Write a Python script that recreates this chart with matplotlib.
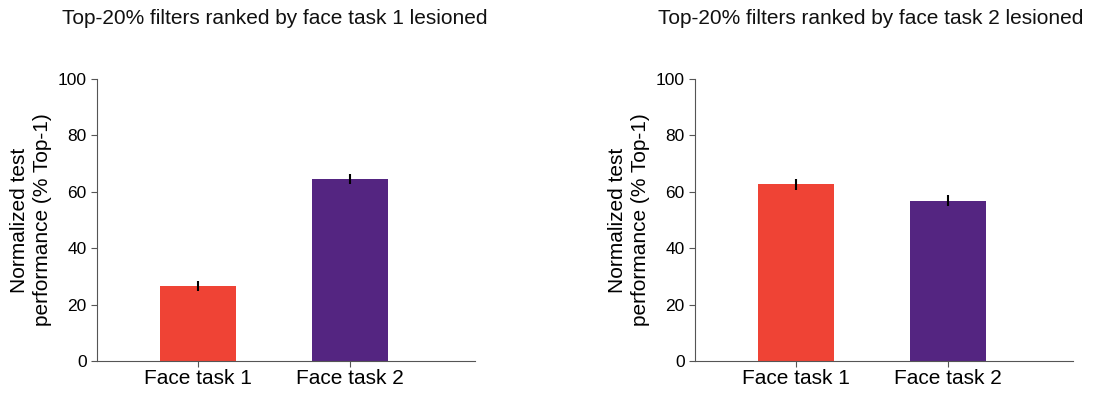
import matplotlib.pyplot as plt

plt.rcParams['font.family'] = ['Liberation Sans', 'DejaVu Sans']

categories = ['Face task 1', 'Face task 2']
titles = ['Top-20% filters ranked by face task 1 lesioned',
          'Top-20% filters ranked by face task 2 lesioned']
values = [[26.6, 64.5], [62.6, 56.9]]
errors = [[1.8, 1.8], [2.0, 2.0]]
colors = ['#EF4335', '#542581']

fig = plt.figure(figsize=(10.94, 3.93), dpi=100)
lefts = [0.0887, 0.6353]
title_x = [0.2514, 0.796]

for i in range(2):
    ax = fig.add_axes([lefts[i], 0.0814, 0.3455, 0.7176])
    ax.bar([0, 1], values[i], width=0.5, color=colors,
           yerr=errors[i], error_kw=dict(ecolor='black', elinewidth=1.5, capsize=0))
    ax.set_xlim(-0.664, 1.82)
    ax.set_ylim(0, 100)
    ax.set_yticks([0, 20, 40, 60, 80, 100])
    ax.set_xticks([0, 1])
    ax.set_xticklabels(categories, fontsize=15)
    ax.tick_params(axis='y', labelsize=12.5, length=4, color='#555555')
    ax.tick_params(axis='x', length=4, color='#555555', pad=2)
    for s in ['top', 'right']:
        ax.spines[s].set_visible(False)
    for s in ['left', 'bottom']:
        ax.spines[s].set_color('#555555')
    ax.set_ylabel('Normalized test\nperformance (% Top-1)', fontsize=15, labelpad=4, linespacing=1.3)
    fig.text(title_x[i], 0.952, titles[i], ha='center', va='center', fontsize=15, color='#111111')

fig.savefig('out.png', dpi=100)
